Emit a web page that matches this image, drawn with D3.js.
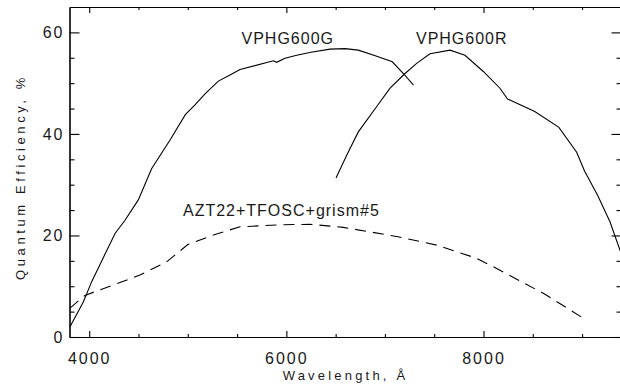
<!DOCTYPE html>
<html lang="en">
<head>
  <meta charset="UTF-8">
  <title>chart</title>
  <script src="https://cdn.jsdelivr.net/npm/d3@7"></script>
</head>
<body>
<style>
  * {
    padding: 0;
    margin: 0;
  }

  body {
    background: #fff;
  }

  svg text {
    font-family: "Liberation Sans", Arial, sans-serif;
    fill: #1a1a1a;
  }
</style>

<div id="app"></div>

<script>
  // VPHG600G (solid)
  let gWave = [3805, 3940, 4025, 4262, 4363, 4498, 4634, 4820, 4975, 5073, 5175, 5310, 5428, 5530, 5868, 5902, 5986, 6105, 6250, 6443, 6595, 6730, 6917, 7075, 7187, 7290];
  let gQE = [2.0, 6.9, 10.9, 20.4, 23.0, 27.0, 33.2, 38.8, 43.8, 45.7, 47.9, 50.4, 51.6, 52.7, 54.4, 54.1, 54.9, 55.5, 56.1, 56.7, 56.8, 56.5, 55.3, 54.2, 51.9, 49.6];

  // VPHG600R (solid)
  let rWave = [6504, 6612, 6730, 6917, 7052, 7204, 7322, 7457, 7660, 7812, 7998, 8167, 8242, 8520, 8765, 8945, 9025, 9155, 9283, 9385, 9400];
  let rQE = [31.3, 35.8, 40.4, 45.4, 49.0, 51.9, 53.9, 55.8, 56.5, 55.5, 52.3, 49.0, 46.9, 44.4, 41.3, 36.4, 32.7, 28.0, 22.7, 17.1, 16.5];

  // AZT22+TFOSC+grism#5 (dashed)
  let aWave = [3805, 3957, 4279, 4515, 4786, 5000, 5259, 5530, 5936, 6240, 6578, 7119, 7525, 7931, 8134, 8607, 8996];
  let aQE = [5.7, 8.2, 10.5, 12.2, 14.8, 18.2, 20.1, 21.7, 22.1, 22.2, 21.6, 19.8, 18.1, 15.5, 13.5, 8.6, 3.9];

  let xMajor = [4000, 6000, 8000];
  let xMinor = [4500, 5000, 5500, 6500, 7000, 7500, 8500, 9000];
  let yMajor = [0, 20, 40, 60];
  let yMinor = [5, 10, 15, 25, 30, 35, 45, 50, 55];

  let labels = ["VPHG600G", "VPHG600R", "AZT22+TFOSC+grism#5"];
  let labelWave = [5545, 7315, 4951];
  let labelQE = [57.8, 57.8, 23.9];

  let $width = 620, $height = 391;
  let $left = 69.5, $right = 621.5, $top = 7, $bottom = 337;

  var svg = d3.select("#app").append("svg").attr("width", $width).attr("height", $height)

  var x = d3.scaleLinear().domain([3800, 9400]).range([$left, $right]);
  var y = d3.scaleLinear().domain([0, 65]).range([$bottom, $top]);

  svg.append("defs").append("clipPath").attr("id", "clip")
    .append("rect").attr("x", $left).attr("y", $top).attr("width", $right - $left).attr("height", $bottom - $top);

  function styleAxis(g) {
    g.selectAll("path, line").attr("stroke", "#000").attr("stroke-width", 1.1);
    g.selectAll("text").attr("font-size", "16px").attr("letter-spacing", "2px")
      .attr("fill", "#1a1a1a")
      .attr("font-family", '"Liberation Sans", Arial, sans-serif');
  }

  // bottom
  svg.append("g").attr("transform", `translate(0,${$bottom})`)
    .call(d3.axisBottom(x).tickValues(xMajor).tickSize(-6).tickSizeOuter(0).tickPadding(16).tickFormat(d3.format("d")))
    .call(styleAxis);
  svg.append("g").attr("transform", `translate(0,${$bottom})`)
    .call(d3.axisBottom(x).tickValues(xMinor).tickSize(-3).tickSizeOuter(0).tickFormat(""))
    .call(styleAxis);
  // top
  svg.append("g").attr("transform", `translate(0,${$top})`)
    .call(d3.axisTop(x).tickValues(xMajor).tickSize(-6).tickSizeOuter(0).tickFormat(""))
    .call(styleAxis);
  svg.append("g").attr("transform", `translate(0,${$top})`)
    .call(d3.axisTop(x).tickValues(xMinor).tickSize(-3).tickSizeOuter(0).tickFormat(""))
    .call(styleAxis);
  // left
  svg.append("g").attr("transform", `translate(${$left},0)`)
    .call(d3.axisLeft(y).tickValues(yMajor).tickSize(-10).tickSizeOuter(0).tickPadding(5))
    .call(styleAxis);
  svg.append("g").attr("transform", `translate(${$left},0)`)
    .call(d3.axisLeft(y).tickValues(yMinor).tickSize(-5).tickSizeOuter(0).tickFormat(""))
    .call(styleAxis);
  // right
  svg.append("g").attr("transform", `translate(${$right},0)`)
    .call(d3.axisRight(y).tickValues(yMajor).tickSize(-10).tickSizeOuter(0).tickFormat(""))
    .call(styleAxis);
  svg.append("g").attr("transform", `translate(${$right},0)`)
    .call(d3.axisRight(y).tickValues(yMinor).tickSize(-5).tickSizeOuter(0).tickFormat(""))
    .call(styleAxis);

  var line = d3.line().x(d => x(d[0])).y(d => y(d[1]));

  var curves = [
    {w: gWave, q: gQE, dash: null},
    {w: rWave, q: rQE, dash: null},
    {w: aWave, q: aQE, dash: "11,7"}
  ];

  svg.append("g").attr("clip-path", "url(#clip)").selectAll("path").data(curves).enter().append("path")
    .attr("d", function (c) {
      return line(c.w.map((w, i) => [w, c.q[i]]))
    })
    .attr("fill", "none").attr("stroke", "#000").attr("stroke-width", 1.1)
    .attr("stroke-dasharray", c => c.dash);

  svg.selectAll("text.lbl").data(labels).enter().append("text").attr("class", "lbl")
    .text(d => d)
    .attr("x", (d, i) => x(labelWave[i]))
    .attr("y", (d, i) => y(labelQE[i]))
    .attr("font-size", "16px").attr("letter-spacing", "1px");

  svg.append("text").text("Wavelength, Å")
    .attr("x", ($left + $right) / 2).attr("y", 379.5)
    .attr("text-anchor", "middle").attr("font-size", "13px").attr("letter-spacing", "3.2px");

  svg.append("text").text("Quantum Efficiency, %")
    .attr("transform", "translate(25,177) rotate(-90)")
    .attr("text-anchor", "middle").attr("font-size", "13px").attr("letter-spacing", "3.6px");
</script>
</body>
</html>
